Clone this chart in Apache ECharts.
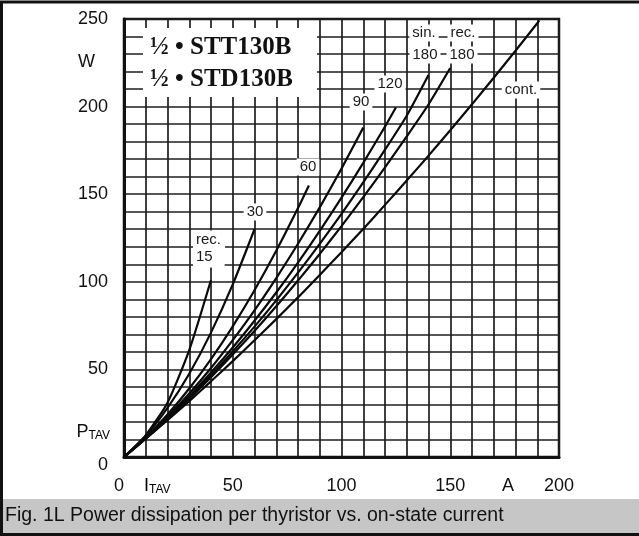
<!DOCTYPE html>
<html><head><meta charset="utf-8">
<script src="https://cdn.jsdelivr.net/npm/echarts@6/dist/echarts.min.js"></script>
<style>html,body{margin:0;padding:0;background:#fff}#c{width:639px;height:536px}</style>
</head><body><div id="c"></div>
<script>
// Power dissipation P_TAV (W) vs. average on-state current I_TAV (A)
const xTicks = [0, 50, 100, 150, 200];
const yTicks = [0, 50, 100, 150, 200, 250];
const rec15  = [[0,0],[10,12.5],[20,31],[30,61],[40,101]];
const rec30  = [[0,0],[10,12],[20,28],[30,47.5],[40,71],[50,98.5],[60,130]];
const rec60  = [[0,0],[10,11.1],[20,24.2],[30,39.1],[40,55.9],[50,74.6],[60,95.2],[70,117.7],[80,142.1],[85,155]];
const rec90  = [[0,0],[10,10.8],[20,22.9],[30,36.2],[40,50.8],[50,66.7],[60,83.7],[70,102.1],[80,121.7],[90,142.5],[100,164.6],[110,188]];
const rec120 = [[0,0],[10,10.7],[20,22.2],[30,34.7],[40,48.2],[50,62.5],[60,77.8],[70,93.9],[80,111],[90,129.1],[100,148],[110,167.9],[120,188.6],[125,199.5]];
const sin180 = [[0,0],[10,10.6],[20,21.9],[30,33.9],[40,46.7],[50,60.2],[60,74.4],[70,89.4],[80,105.2],[90,121.6],[100,138.8],[110,156.7],[120,175.4],[130,194.8],[140,218]];
const rec180 = [[0,0],[10,10.5],[20,21.6],[30,33.3],[40,45.6],[50,58.5],[60,71.9],[70,86],[80,100.7],[90,115.9],[100,131.8],[110,148.3],[120,165.3],[130,183],[140,201.2],[150,222]];
const cont   = [[0,0],[10,10.4],[20,21],[30,31.9],[40,43.2],[50,54.7],[60,66.6],[70,78.7],[80,91.1],[90,103.9],[100,116.9],[110,130.2],[120,143.9],[130,157.8],[140,172],[150,186.5],[160,201.3],[170,216.5],[180,231.9],[190,247.6],[191,249.2]];
const curves = [
  ['rec. 15', rec15], ['rec. 30', rec30], ['rec. 60', rec60], ['rec. 90', rec90],
  ['rec. 120', rec120], ['sin. 180', sin180], ['rec. 180', rec180], ['cont.', cont]
];

const FONT = '"Liberation Sans", Arial, Helvetica, sans-serif';
const SERIF = '"Liberation Serif", "Times New Roman", serif';
const gridLine = {color:'#1e1e1e', width:1.7};
const chart = echarts.init(document.getElementById('c'), null, {renderer:'canvas'});

function lbl(text, x, y, extra) {
  return Object.assign({
    type:'text', z:100, x:x, y:y,
    style:{text:text, font:'15px ' + FONT, fill:'#1a1a1a', align:'center', verticalAlign:'middle',
           backgroundColor:'#fff', padding:[1,3,1,3]}
  }, extra || {});
}

const option = {
  animation:false,
  backgroundColor:'#fff',
  grid:{left:124, right:80, top:19, bottom:79, show:true, borderColor:'#111', borderWidth:2.5, backgroundColor:'transparent'},
  xAxis:{
    type:'value', min:0, max:200, interval:50,
    minorTick:{show:false, splitNumber:5},
    minorSplitLine:{show:true, lineStyle:gridLine},
    splitLine:{show:true, lineStyle:gridLine},
    axisLine:{show:true, lineStyle:{color:'#111', width:3}},
    axisTick:{show:false},
    axisLabel:{
      margin:20, color:'#111', fontFamily:FONT, fontSize:18,
      customValues: xTicks,
      formatter: v => v === 0 ? '{a|0}' : String(v),
      rich:{a:{padding:[0,10,0,0], color:'#111', fontFamily:FONT, fontSize:18}}
    }
  },
  yAxis:{
    type:'value', min:0, max:250, interval:50,
    minorTick:{show:false, splitNumber:5},
    minorSplitLine:{show:true, lineStyle:gridLine},
    splitLine:{show:true, lineStyle:gridLine},
    axisLine:{show:true, lineStyle:{color:'#111', width:3}},
    axisTick:{show:false},
    axisLabel:{
      margin:16, color:'#111', fontFamily:FONT, fontSize:18,
      customValues: yTicks,
      formatter: v => v === 0 ? '{b|0}' : String(v),
      rich:{b:{padding:[16,0,0,0], color:'#111', fontFamily:FONT, fontSize:18}}
    }
  },
  series: curves.map(([name, d]) => ({
    name, type:'line', data:d, showSymbol:false, symbol:'none', smooth:0.2,
    lineStyle:{color:'#0a0a0a', width:2.2}, z:3
  })),
  graphic:[
    // title box
    {type:'rect', z:100, shape:{x:143, y:28, width:174, height:69}, style:{fill:'#fff'}},
    {type:'text', z:101, x:150, y:48, style:{text:'½ • STT130B', font:'bold 25px ' + SERIF, fill:'#111', verticalAlign:'middle'}},
    {type:'text', z:101, x:150, y:80, style:{text:'½ • STD130B', font:'bold 25px ' + SERIF, fill:'#111', verticalAlign:'middle'}},
    // axis names
    {type:'text', z:100, x:95, y:62, style:{text:'W', font:'18px ' + FONT, fill:'#111', align:'right', verticalAlign:'middle'}},
    {type:'text', z:100, x:110, y:432, style:{text:'{m|P}{s|TAV}', align:'right', verticalAlign:'middle',
      rich:{m:{font:'18px ' + FONT, fill:'#111', color:'#111'}, s:{font:'12px ' + FONT, color:'#111', padding:[8,0,0,0]}}}},
    {type:'text', z:100, x:144, y:486, style:{text:'{m|I}{s|TAV}', align:'left', verticalAlign:'middle',
      rich:{m:{font:'18px ' + FONT, color:'#111'}, s:{font:'12px ' + FONT, color:'#111', padding:[8,0,0,0]}}}},
    {type:'text', z:100, x:508, y:486, style:{text:'A', font:'18px ' + FONT, fill:'#111', align:'center', verticalAlign:'middle'}},
    // curve labels
    lbl('rec.', 193, 240, {style:{text:'rec.', font:'15px ' + FONT, fill:'#1a1a1a', align:'left', verticalAlign:'middle', backgroundColor:'#fff', padding:[3,4,1,3]}}),
    lbl('15', 193, 257, {style:{text:'15', font:'15px ' + FONT, fill:'#1a1a1a', align:'left', verticalAlign:'middle', backgroundColor:'#fff', padding:[1,12,5,3]}}),
    lbl('30', 255, 212),
    lbl('60', 308, 167),
    lbl('90', 361, 102),
    lbl('120', 390, 84),
    lbl('sin.', 424, 33),
    lbl('rec.', 463, 33),
    lbl('180', 425, 55),
    lbl('180', 462, 55),
    lbl('cont.', 521, 90),
    // caption bar and frame
    {type:'rect', z:100, shape:{x:2, y:499, width:640, height:35}, style:{fill:'#c6c6c6'}},
    {type:'text', z:101, x:5, y:516, style:{text:'Fig. 1L Power dissipation per thyristor vs. on-state current', font:'19.5px ' + FONT, fill:'#111', verticalAlign:'middle'}},
    {type:'rect', z:102, shape:{x:1.5, y:2, width:645, height:532.5}, style:{fill:'none', stroke:'#111', lineWidth:3}}
  ]
};
chart.setOption(option);
</script>
</body></html>
